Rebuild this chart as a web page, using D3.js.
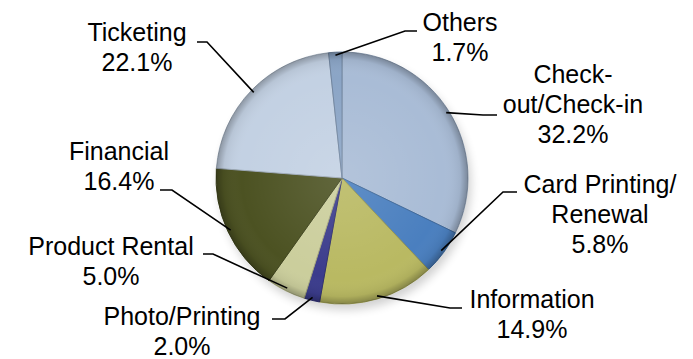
<!DOCTYPE html>
<html><head><meta charset="utf-8">
<script src="https://cdn.jsdelivr.net/npm/d3@7"></script>
<style>html,body{margin:0;padding:0;background:#fff;}svg{display:block;}</style>
</head><body>
<svg id="c" width="693" height="359"></svg>
<script>
// ---- data ----
const categories = ["Check-out/Check-in","Card Printing/Renewal","Information","Photo/Printing","Product Rental","Financial","Ticketing","Others"];
const values = [32.2, 5.8, 14.9, 2.0, 5.0, 16.4, 22.1, 1.7];
const labelLines = [["Check-","out/Check-in"],["Card Printing/","Renewal"],["Information"],["Photo/Printing"],["Product Rental"],["Financial"],["Ticketing"],["Others"]];
const colors = ["#a9bcd6","#4a7fbf","#b9b962","#3b3c8c","#cbce9c","#4c5222","#c3d1e3","#8ba5c6"];

// ---- layout ----
const W = 693, H = 359, cx = 342, cy = 178, R = 126;
const fontSize = 25, lineH = 30;
// label anchor: center x, first baseline y ; leader: label end point, elbow point
const labelPos = [
  {x:573, y:83,  p0:[497,115], p1:[483,115]},
  {x:600, y:193, p0:[517,192], p1:[503,192]},
  {x:532, y:308, p0:[462,308], p1:[450,308]},
  {x:182, y:325, p0:[272,319], p1:[285,319]},
  {x:111, y:255, p0:[203,254], p1:[213,254]},
  {x:119, y:160, p0:[160,190], p1:[172,190]},
  {x:137, y:41,  p0:[197,42],  p1:[207,42]},
  {x:460, y:30.5,p0:[417,31],  p1:[405,31]}
];

const svg = d3.select("#c");
const defs = svg.append("defs");
const sh = defs.append("filter").attr("id","blur").attr("x","-30%").attr("y","-30%").attr("width","160%").attr("height","160%");
sh.append("feGaussianBlur").attr("stdDeviation",5);
const rg = defs.append("radialGradient").attr("id","shade").attr("cx","50%").attr("cy","50%").attr("r","50%");
rg.append("stop").attr("offset","0%").attr("stop-color","#fff").attr("stop-opacity",0.12);
rg.append("stop").attr("offset","80%").attr("stop-color","#fff").attr("stop-opacity",0.0);
rg.append("stop").attr("offset","94%").attr("stop-color","#000").attr("stop-opacity",0.06);
rg.append("stop").attr("offset","100%").attr("stop-color","#000").attr("stop-opacity",0.28);

const data = categories.map((c,i)=>({cat:c, value:values[i], lines:labelLines[i], color:colors[i], pos:labelPos[i]}));
const pie = d3.pie().sort(null).value(d=>d.value);
const arcs = pie(data);
const arc = d3.arc().innerRadius(0).outerRadius(R);

const g = svg.append("g").attr("transform",`translate(${cx},${cy})`);
// soft shadow
g.append("ellipse").attr("cx",3).attr("cy",6).attr("rx",R).attr("ry",R)
  .attr("fill","#000").attr("opacity",0.18).attr("filter","url(#blur)");
g.selectAll("path.slice").data(arcs).join("path").attr("class","slice")
  .attr("d",arc).attr("fill",d=>d.data.color)
  .attr("stroke",d=>d3.color(d.data.color).darker(0.6)).attr("stroke-width",1);
g.append("circle").attr("r",R).attr("fill","url(#shade)");

// leader lines
const lineGen = d3.line();
arcs.forEach(a=>{
  const m = (a.startAngle+a.endAngle)/2;
  const ex = cx + (R-3)*Math.sin(m), ey = cy - (R-3)*Math.cos(m);
  const p = a.data.pos;
  svg.append("path").attr("d",lineGen([p.p0,p.p1,[ex,ey]]))
    .attr("fill","none").attr("stroke","#000").attr("stroke-width",1.6);
});

// labels
const fmt = d3.format(".1f");
arcs.forEach(a=>{
  const p = a.data.pos;
  const lines = a.data.lines.concat([fmt(a.data.value)+"%"]);
  const t = svg.append("text").attr("x",p.x).attr("y",p.y).attr("text-anchor","middle")
    .attr("font-family","'Liberation Sans', Arial, sans-serif").attr("font-size",fontSize).attr("fill","#000");
  lines.forEach((l,i)=>t.append("tspan").attr("x",p.x).attr("y",p.y+i*lineH).text(l));
});
</script>
</body></html>
